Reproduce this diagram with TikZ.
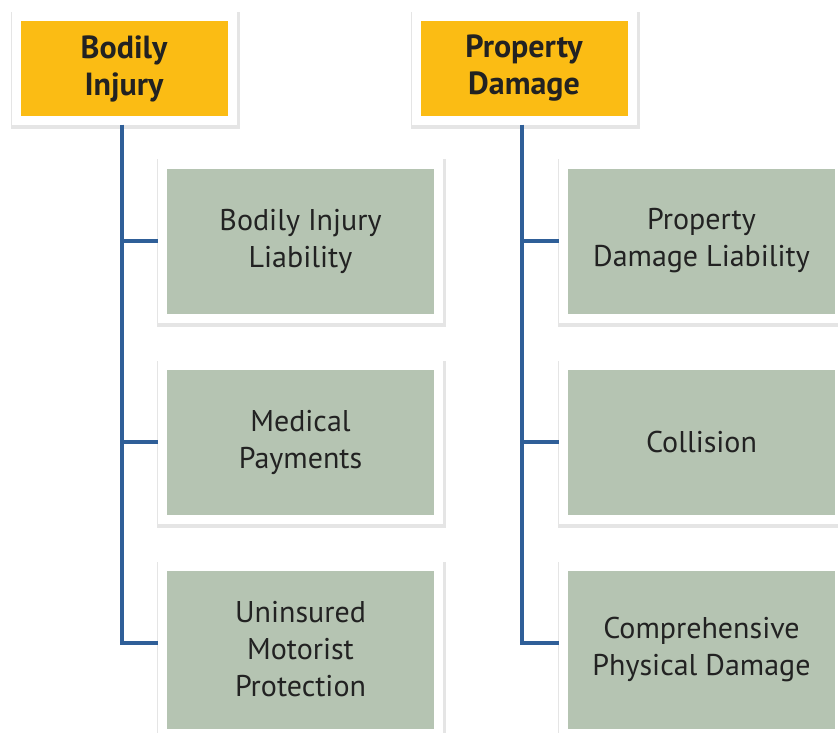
\documentclass[tikz,border=0pt]{standalone}
\usepackage{fontspec}
\setmainfont{PT Sans}
\usetikzlibrary{positioning}
\definecolor{headyellow}{HTML}{FBBC14}
\definecolor{itemgreen}{HTML}{B5C4B2}
\definecolor{linkblue}{HTML}{2F5F98}
\definecolor{textdark}{HTML}{222222}

\begin{document}
\begin{tikzpicture}[x=1pt, y=-1pt, boxshadow/.style={preaction={draw=black, draw opacity=0.10, line width=13pt, transform canvas={xshift=1pt, yshift=-2pt}}}, header/.style={rectangle, draw=white, line width=9pt, fill=headyellow, minimum width=216pt, minimum height=104pt, align=center, text=textdark, font=\fontsize{32}{37}\selectfont\bfseries, boxshadow}, item/.style={rectangle, draw=white, line width=9pt, fill=itemgreen, minimum width=276pt, minimum height=154pt, align=center, text=textdark, font=\fontsize{30}{37}\selectfont, boxshadow}, tallitem/.style={item, minimum height=167pt}, link/.style={draw=linkblue, line width=3.3pt}]

    \useasboundingbox[fill=white] (0,0) rectangle (838,733);

    %Nodes
    \node[header](bodily) at (124,68.5){Bodily\\Injury};
    \node[header](property)[right=175pt of bodily]{Property\\Damage};
    \node[item](bil) at (300.5,241){Bodily Injury\\Liability};
    \node[item](medical)[below=38pt of bil]{Medical\\Payments};
    \node[tallitem](uninsured)[below=38pt of medical]{Uninsured\\Motorist\\Protection};
    \node[item](pdl)[right=116pt of bil]{Property\\Damage Liability};
    \node[item](collision)[below=38pt of pdl]{Collision};
    \node[tallitem](compr)[below=38pt of collision]{Comprehensive\\Physical Damage};

    %Lines
    \draw[link] (bodily.south) ++(-2,0) |- (bil.west);
    \draw[link] (bodily.south) ++(-2,0) |- (medical.west);
    \draw[link] (bodily.south) ++(-2,0) |- ([yshift=6.5pt]uninsured.west);
    \draw[link] (property.south) ++(-2,0) |- (pdl.west);
    \draw[link] (property.south) ++(-2,0) |- (collision.west);
    \draw[link] (property.south) ++(-2,0) |- ([yshift=6.5pt]compr.west);

\end{tikzpicture}
\end{document}
